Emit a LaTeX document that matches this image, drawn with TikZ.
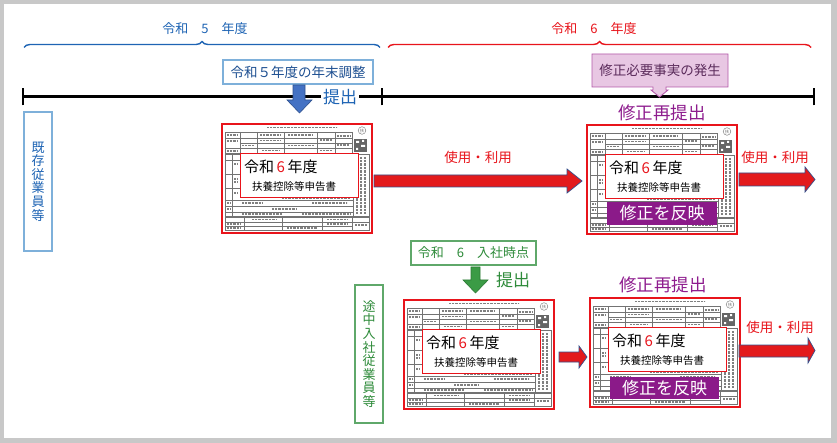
\documentclass[tikz,border=0pt]{standalone}
\usepackage{fontspec}
\setmainfont{Noto Sans CJK JP}
\usetikzlibrary{decorations.pathreplacing}
\definecolor{bgray}{HTML}{C8C8C8}
\definecolor{blueT}{HTML}{1E64B4}
\definecolor{lbBorder}{HTML}{7EB0DA}
\definecolor{navyT}{HTML}{1D4F91}
\definecolor{arBlue}{HTML}{4472C4}
\definecolor{arBlueO}{HTML}{2F528F}
\definecolor{redT}{HTML}{E8141B}
\definecolor{arRed}{HTML}{E31A1C}
\definecolor{arRedO}{HTML}{34508C}
\definecolor{greenT}{HTML}{2E8B3A}
\definecolor{greenB}{HTML}{5FA86A}
\definecolor{arGreen}{HTML}{3B9B45}
\definecolor{arGreenO}{HTML}{2D7A35}
\definecolor{purpT}{HTML}{8E1C8E}
\definecolor{purpBox}{HTML}{8B1A89}
\definecolor{pinkF}{HTML}{E8C7E3}
\definecolor{pinkB}{HTML}{B45AAA}
\definecolor{pinkT}{HTML}{5B2B5B}
\newcommand\fsz[1]{\fontsize{#1}{#1}\selectfont}
\tikzset{
  fl/.style={draw=black!55, line width=0.4pt},
  ft/.style={draw=black!50, line width=1.1pt, dash pattern=on 0.8pt off 0.6pt},
  formframe/.style={draw=redT, line width=1.1pt, minimum width=150pt, minimum height=109pt, inner sep=0pt},
  titlebox/.style={draw=redT, fill=white, line width=0.9pt, minimum width=118pt, minimum height=44pt, inner sep=0pt},
  fixbox/.style={fill=purpBox, text=white, font=\fsz{17}, minimum width=110pt, minimum height=23pt, inner sep=0pt},
  redarrow/.style={fill=arRed, draw=arRedO, line width=0.7pt, line join=miter},
  usetext/.style={text=redT, font=\fsz{13.5}},
  resub/.style={text=purpT, font=\fsz{17.5}},
  vbox/.style={line width=1.3pt, minimum width=28pt, inner sep=0pt, align=center, font=\fontsize{13}{13.6}\selectfont},
}
\newcommand\taxform[3]{%
\begin{scope}[shift={(#2,#3)}]
  \node[formframe] (#1) at (75,54.5) {};
  \draw[ft] (45,3.5)--(115,3.5);
  \draw[fl] (140,6.5) circle (3.8);
  \node[font=\fsz{4}, text=black!60, inner sep=0pt] (#1-fu) at (140,6.5) {扶};
  \draw[fl] (3,8) rectangle (130,29);
  \draw[fl] (3,14)--(130,14) (18,19)--(130,19) (3,24)--(130,24);
  \draw[fl] (18,8)--(18,29) (35,8)--(35,29) (62,8)--(62,29) (95,8)--(95,29) (113,8)--(113,29);
  \draw[ft] (5,11)--(15,11) (38,11)--(58,11) (66,11)--(90,11) (98,16)--(110,16) (20,21.5)--(32,21.5) (40,26.5)--(58,26.5) (66,21.5)--(92,21.5) (115,12)--(128,12) (115,21)--(127,21) (5,17)--(15,17) (5,27)--(15,27) (38,16.5)--(58,16.5) (98,26.5)--(110,26.5);
  \fill[black!60] (132,15) rectangle (145,28);
  \fill[white] (134,17) rectangle (137,19) (139,21) rectangle (143,23) (134,24) rectangle (136,26) (140,16) rectangle (142,18);
  \draw[fl] (3,30) rectangle (147,92);
  \draw[fl] (10,30)--(10,92) (131,30)--(131,92);
  \draw[fl] (3,36)--(131,36) (3,50)--(18,50) (3,64)--(18,64) (3,76)--(131,76) (3,82)--(131,82) (3,88)--(131,88);
  \draw[ft] (12,40)--(16,40) (12,55)--(16,55) (12,58)--(16,58) (12,69)--(16,69) (20,79)--(40,79) (50,85)--(75,85) (90,79)--(125,79) (60,74.5)--(128,74.5) (5,79)--(9,79) (5,85)--(9,85) (20,90)--(60,90) (80,90)--(128,90);
  \draw[ft] (135,33)--(135,90) (139,33)--(139,90) (143,33)--(143,90);
  \draw[fl] (3,93) rectangle (147,106);
  \draw[fl] (3,98)--(147,98) (3,102)--(130,102) (22,93)--(22,106) (60,93)--(60,106) (100,93)--(100,106) (130,93)--(130,106);
  \draw[ft] (5,100)--(18,100) (30,95.5)--(55,95.5) (65,104)--(95,104) (105,100)--(125,100) (133,101)--(145,101) (5,104)--(18,104) (105,95.5)--(125,95.5);
  \node[titlebox] (#1-t) at (77,51) {};
  \node[anchor=west, font=\fsz{15}, inner sep=0pt] (#1-y) at (22,43) {令和\,\textcolor{redT}{6}\,年度};
  \node[anchor=west, font=\fsz{10.5}, inner sep=0pt] (#1-n) at (30,63) {扶養控除等申告書};
\end{scope}}
\begin{document}
\begin{tikzpicture}[x=1pt,y=-1pt]
\useasboundingbox (0,0) rectangle (837,443);
\fill[bgray] (0,0) rectangle (837,443);
\fill[white] (4,4) rectangle (831,438);

% year braces
\draw[blueT, line width=1.4pt, decorate, decoration={brace, amplitude=6pt}] (24,47.5) -- (380,47.5);
\node[text=blueT, font=\fsz{13}] (r5) at (205,29) {令和　5　年度};
\draw[redT, line width=1.4pt, decorate, decoration={brace, amplitude=6pt}] (388,47.5) -- (811,47.5);
\node[text=redT, font=\fsz{13}] (r6) at (594,29) {令和　6　年度};

% timeline
\coordinate (tl0) at (23,97);
\coordinate (tl1) at (382,97);
\coordinate (tl2) at (814,97);
\draw[line width=3pt] (tl0) -- (tl2);
\draw[line width=2.6pt] ([yshift=-8.5pt]tl0) -- ([yshift=8.5pt]tl0);
\draw[line width=2.6pt] ([yshift=-8.5pt]tl1) -- ([yshift=8.5pt]tl1);
\draw[line width=2.6pt] ([yshift=-8.5pt]tl2) -- ([yshift=8.5pt]tl2);

% year-end adjustment
\node[draw=lbBorder, line width=1.3pt, text=navyT, font=\fsz{13.5}, minimum width=150pt, minimum height=24pt, inner sep=0pt] (nenmatsu) at (298,72) {令和５年度の年末調整};
\filldraw[fill=arBlue, draw=arBlueO, line width=0.6pt] (293,85) -- (305,85) -- (305,100) -- (312,100) -- (299.5,113) -- (287,100) -- (293,100) -- cycle;
\node[fill=white, text=blueT, font=\fsz{17}, inner sep=2pt] (teishutsu1) at (340,97) {提出};

% callout
\filldraw[fill=pinkF, draw=pinkB, line width=0.9pt, line join=miter] (592,54) -- (728,54) -- (728,87) -- (666,87) -- (666,90) -- (668,90) -- (659.5,97) -- (651,90) -- (653,90) -- (653,87) -- (592,87) -- cycle;
\node[text=pinkT, font=\fsz{13.5}] (hassei) at (660,70.5) {修正必要事実の発生};

% existing employees
\node[vbox, draw=lbBorder, text=blueT, minimum height=139pt] (kizon) at (38,181.5) {既\\存\\従\\業\\員\\等};

% row 1
\taxform{f1}{222}{124}
\filldraw[redarrow] (374,175) -- (567,175) -- (567,169) -- (582,181) -- (567,193) -- (567,187) -- (374,187) -- cycle;
\node[usetext] (use1) at (478,157) {使用・利用};
\node[resub] (resub1) at (662,113) {修正再提出};
\taxform{f2}{587}{125}
\node[fixbox] (fix1) at (662,213.5) {修正を反映};
\filldraw[redarrow] (739,173) -- (805,173) -- (805,167) -- (815,179.5) -- (805,192) -- (805,186) -- (739,186) -- cycle;
\node[usetext] (use2) at (775,157) {使用・利用};

% mid-year hires
\node[draw=greenB, line width=1.3pt, text=greenT, font=\fsz{13}, minimum width=125pt, minimum height=24pt, inner sep=0pt] (nyusha) at (473.5,253) {令和　6　入社時点};
\filldraw[fill=arGreen, draw=arGreenO, line width=0.6pt] (471,267) -- (480,267) -- (480,280) -- (488,280) -- (475.5,293) -- (463,280) -- (471,280) -- cycle;
\node[text=greenT, font=\fsz{17}] (teishutsu2) at (513,280) {提出};
\node[vbox, draw=greenB, text=greenT, minimum height=138pt] (tochu) at (369,354) {途\\中\\入\\社\\従\\業\\員\\等};

\taxform{f3}{404}{300}
\filldraw[redarrow] (559,352) -- (579,352) -- (579,346) -- (587,357) -- (579,368) -- (579,362) -- (559,362) -- cycle;
\node[resub] (resub2) at (663,285) {修正再提出};
\taxform{f4}{590}{298}
\node[fixbox, minimum width=109pt, minimum height=22pt] (fix2) at (664.5,388) {修正を反映};
\node[usetext] (use3) at (780,327) {使用・利用};
\filldraw[redarrow] (739,345) -- (808,345) -- (808,338) -- (815,350.5) -- (808,363) -- (808,357) -- (739,357) -- cycle;
\end{tikzpicture}
\end{document}
